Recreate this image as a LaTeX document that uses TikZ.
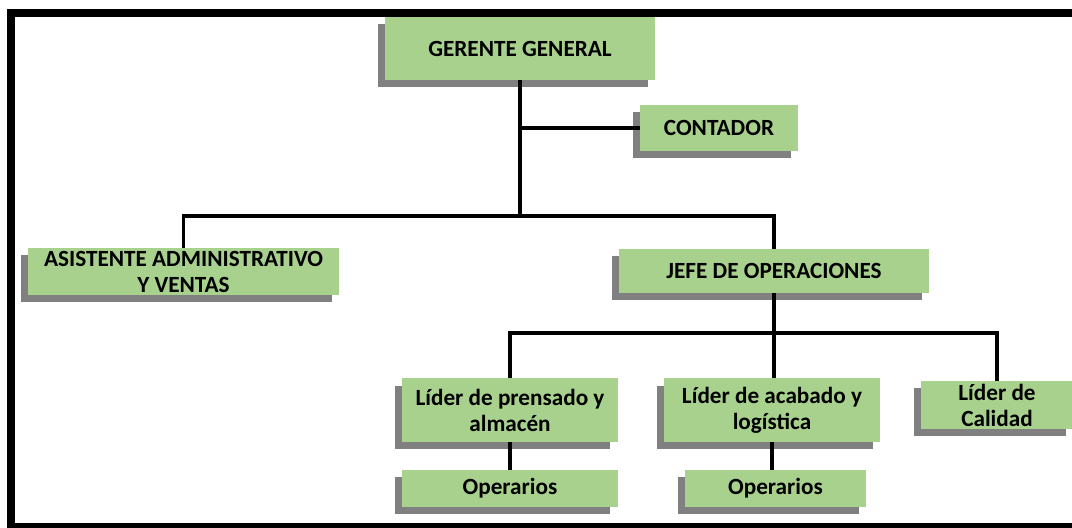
\documentclass[tikz,border=0pt]{standalone}
\usepackage{fontspec}
\setmainfont{Carlito}
\usetikzlibrary{shadows}
\definecolor{cajaverde}{HTML}{A9D18E}
\tikzset{
  caja/.style={draw=none, fill=cajaverde, align=center, font=\bfseries\fontsize{16.5}{18.5}\selectfont,
    inner sep=2pt, drop shadow={shadow xshift=-0.18cm, shadow yshift=-0.18cm, fill=black!50, opacity=1}},
  linea/.style={line width=2.8pt, black}
}
\begin{document}
\begin{tikzpicture}[x=0.025cm, y=-0.025cm]
				% 1. marco
				\useasboundingbox (0,0) rectangle (1072,527);
				\draw[line width=0.2cm] (11,13) rectangle (1090,527);
				
				% 2. cajas
				\node[caja, minimum width=6.75cm, minimum height=1.575cm] (gg) at (520,48.5) {GERENTE GENERAL};
				\node[caja, minimum width=3.95cm, minimum height=1.15cm] (cont) at (719,128) {CONTADOR};
				\node[caja, minimum width=7.775cm, minimum height=1.075cm] (asis) at (183.5,271.5) {ASISTENTE ADMINISTRATIVO\\Y VENTAS};
				\node[caja, minimum width=7.75cm, minimum height=1.1cm] (jefe) at (774,271) {JEFE DE OPERACIONES};
				\node[caja, minimum width=5.375cm, minimum height=1.575cm] (lp) at (510,410) {Líder de prensado y\\almacén};
				\node[caja, minimum width=5.4cm, minimum height=1.575cm] (la) at (772,410) {Líder de acabado y\\logística};
				\node[caja, minimum width=3.8cm, minimum height=1.1cm] (cal) at (997,405) {Líder de\\Calidad};
				\node[caja, minimum width=5.375cm, minimum height=0.925cm] (op1) at (510,488.5) {Operarios};
				\node[caja, minimum width=4.525cm, minimum height=0.925cm] (op2) at (775.5,488.5) {Operarios};
				
				% 3. conectores
				\coordinate (busA) at (521,216);
				\coordinate (busB) at (773,333);
				\draw[linea] (gg.south) -- (gg.south |- busA);
				\draw[linea] (cont.west) -- (cont.west -| gg.south);
				\draw[linea] (asis.north) |- (busA) -| (jefe.north);
				\draw[linea] (jefe.south) -- (jefe.south |- la.north);
				\draw[linea] (lp.north) |- (busB) -| (cal.north);
				\draw[linea] (lp.south) -- (op1.north);
				\draw[linea] (la.south) -- (la.south |- op2.north);
			\end{tikzpicture}
\end{document}
